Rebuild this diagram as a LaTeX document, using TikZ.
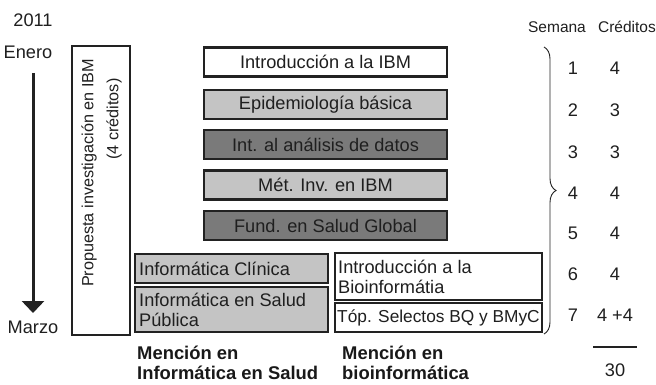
\documentclass[tikz,border=0pt]{standalone}
\usepackage{fontspec}
\setmainfont{Liberation Sans}
\usetikzlibrary{arrows.meta,decorations.pathreplacing}
\definecolor{lgray}{HTML}{C4C4C4}
\definecolor{dgray}{HTML}{7A7A7A}
\definecolor{edge}{HTML}{222222}
\begin{document}
\begin{tikzpicture}[x=1pt,y=-1pt,
  txt/.style={font=\fontsize{18.2}{21}\selectfont, inner sep=0pt, text=black!88},
  small/.style={font=\fontsize{15.5}{18}\selectfont, inner sep=0pt, text=black!88},
  bold/.style={font=\fontsize{18.4}{21}\selectfont\bfseries, inner sep=0pt, anchor=west, text=black!90},
  course/.style={draw=edge, line width=2.4pt, inner sep=0pt, minimum width=243pt, minimum height=29pt, txt},
  sidebox/.style={draw=edge, line width=2.4pt, inner sep=0pt},
]
\useasboundingbox (0,0) rectangle (656,385);
% left time axis
\node[txt] (y2011) at (33,20) {2011};
\node[txt] (enero) at (28,52) {Enero};
\node[txt] (marzo) at (33,327) {Marzo};
\coordinate (atop) at (33,73);
\coordinate (abot) at (33,313);
\draw[line width=3pt, edge, -{Triangle[width=22pt,length=12pt]}] (atop) -- (abot);
% propuesta box
\node[sidebox, minimum width=58pt, minimum height=289pt] (prop) at (101,190.5) {};
\node[txt, font=\fontsize{16.2}{20}\selectfont, rotate=90] (prop1) at (89,173) {Propuesta investigación en IBM};
\node[txt, font=\fontsize{16.2}{20}\selectfont, rotate=90] (prop2) at (114,119) {(4 créditos)};
% core courses
\node[course, fill=white] (c1) at (325.5,62) {Introducción a la IBM};
\node[course, fill=lgray] (c2) at (325.5,104.5) {Epidemiología básica};
\node[course, fill=dgray] (c3) at (325.5,144.5) {Int. al análisis de datos};
\node[course, fill=lgray] (c4) at (325.5,185) {Mét. Inv. en IBM};
\node[course, fill=dgray] (c5) at (325.5,225.5) {Fund. en Salud Global};
% informatica en salud
\node[sidebox, fill=lgray, minimum width=193pt, minimum height=29pt] (ic) at (231.5,268.5) {};
\node[txt, anchor=west] at (139,268.5) {Informática Clínica};
\node[sidebox, fill=lgray, minimum width=193pt, minimum height=45pt] (isp) at (231.5,309.5) {};
\node[txt, anchor=west, align=left] at (139,309.5) {Informática en Salud\\[-1pt]Pública};
% bioinformatica
\node[sidebox, fill=white, minimum width=207pt, minimum height=47pt] (ib) at (438.5,276.5) {};
\node[txt, anchor=west, align=left] at (338,276.5) {Introducción a la\\[-1pt]Bioinformátia};
\node[sidebox, fill=white, minimum width=207pt, minimum height=29pt] (tb) at (438.5,317.5) {};
\node[txt, font=\fontsize{17.3}{20}\selectfont, anchor=west] at (337,317.5) {Tóp. Selectos BQ y BMyC};
% mencion labels
\node[bold] at (137,353) {Mención en};
\node[bold] at (137,373) {Informática en Salud};
\node[bold] at (342,353) {Mención en};
\node[bold] at (342,373) {bioinformática};
% brace
\coordinate (btop) at (544,47);
\coordinate (bbot) at (544,334);
\draw[line width=0.9pt, edge, decoration={brace, amplitude=12pt}, decorate] (btop) -- (bbot);
% table
\node[small] (sem) at (557,27) {Semana};
\node[small, anchor=east] (cred) at (656,27) {Créditos};
\foreach \w/\c/\y in {1/4/68,2/3/110,3/3/152,4/4/193,5/4/233,6/4/274,7/{4 +4}/315}{
  \node[txt] at (573,\y) {\w};
  \node[txt] at (615,\y) {\c};
}
\coordinate (l1) at (593,347);
\coordinate (l2) at (637,347);
\draw[line width=2pt, edge] (l1) -- (l2);
\node[txt] (total) at (615,370) {30};
\end{tikzpicture}
\end{document}
